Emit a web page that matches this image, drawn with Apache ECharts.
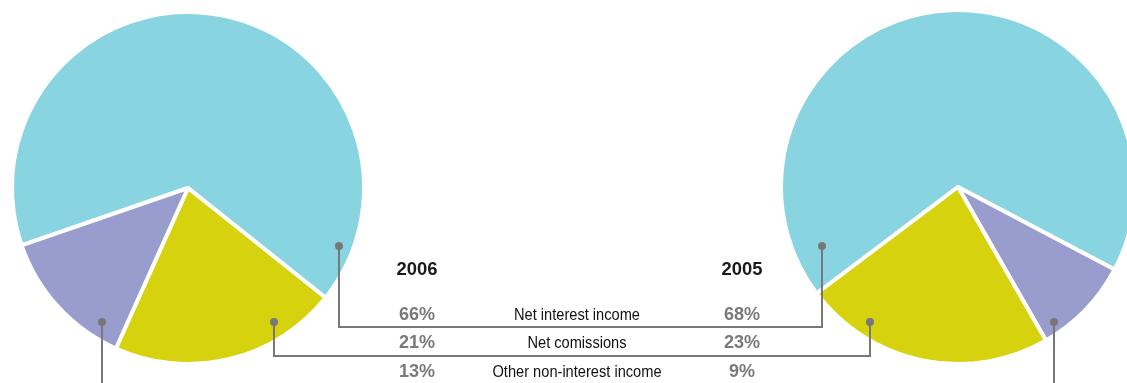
<!DOCTYPE html>
<html><head><meta charset="utf-8">
<script src="https://cdn.jsdelivr.net/npm/echarts@6/dist/echarts.min.js"></script>
<style>html,body{margin:0;padding:0;background:#fff}#c{width:1127px;height:383px}</style>
</head><body><div id="c"></div>
<script>
var categories = ['Net interest income', 'Net comissions', 'Other non-interest income'];
var years = ['2006', '2005'];
var values2006 = [66, 21, 13];
var values2005 = [68, 23, 9];
var colors = ['#88d4e1', '#d6d20e', '#999dcd'];

var chart = echarts.init(document.getElementById('c'), null, {renderer: 'canvas'});

function pieData(vals, order) {
  return order.map(function (i) {
    return {name: categories[i], value: vals[i], itemStyle: {color: colors[i]}};
  });
}

var gray = '#787878';
var lineStyle = {stroke: gray, lineWidth: 2};
function poly(pts) { return {type: 'polyline', shape: {points: pts}, style: lineStyle, z: 10}; }
function dot(x, y) { return {type: 'circle', shape: {cx: x, cy: y, r: 4}, style: {fill: gray}, z: 11}; }
function txt(s, x, y, opt, sx) {
  return {type: 'text', x: x, y: y, z: 12, scaleX: sx || 1,
    style: Object.assign({text: s, align: 'center', verticalAlign: 'middle'}, opt)};
}

var colL = 417, colM = 577, colR = 742;
var rowY = [315, 343, 372];
var pctStyle = {fill: '#7a7a7a', font: 'bold 19px "Liberation Sans", Arial, sans-serif'};
var labStyle = {fill: '#111', font: '17px "Liberation Sans", Arial, sans-serif'};
var yearStyle = {fill: '#1a1a1a', font: 'bold 19px "Liberation Sans", Arial, sans-serif'};
var graphics = [
  poly([[339, 246], [339, 327], [822, 327], [822, 246]]),
  poly([[274, 322], [274, 356], [870, 356], [870, 322]]),
  poly([[102, 322], [102, 390]]),
  poly([[1054, 322], [1054, 390]]),
  dot(339, 246), dot(822, 246), dot(274, 322), dot(870, 322), dot(102, 322), dot(1054, 322),
  txt(years[0], colL, 270, yearStyle, 0.97),
  txt(years[1], colR, 270, yearStyle, 0.97)
];
for (var i = 0; i < categories.length; i++) {
  graphics.push(txt(values2006[i] + '%', colL, rowY[i], pctStyle, 0.95));
  graphics.push(txt(categories[i], colM, rowY[i], labStyle, 0.86));
  graphics.push(txt(values2005[i] + '%', colR, rowY[i], pctStyle, 0.95));
}

chart.setOption({
  animation: false,
  backgroundColor: '#fff',
  series: [
    {
      type: 'pie', center: [188, 188], radius: [0, 176], startAngle: 199, clockwise: true,
      label: {show: false}, labelLine: {show: false}, silent: true,
      itemStyle: {borderColor: '#fff', borderWidth: 4},
      data: pieData(values2006, [0, 1, 2])
    },
    {
      type: 'pie', center: [958, 187], radius: [0, 177], startAngle: 217, clockwise: true,
      label: {show: false}, labelLine: {show: false}, silent: true,
      itemStyle: {borderColor: '#fff', borderWidth: 4},
      data: pieData(values2005, [0, 2, 1])
    }
  ],
  graphic: graphics
});
</script></body></html>
